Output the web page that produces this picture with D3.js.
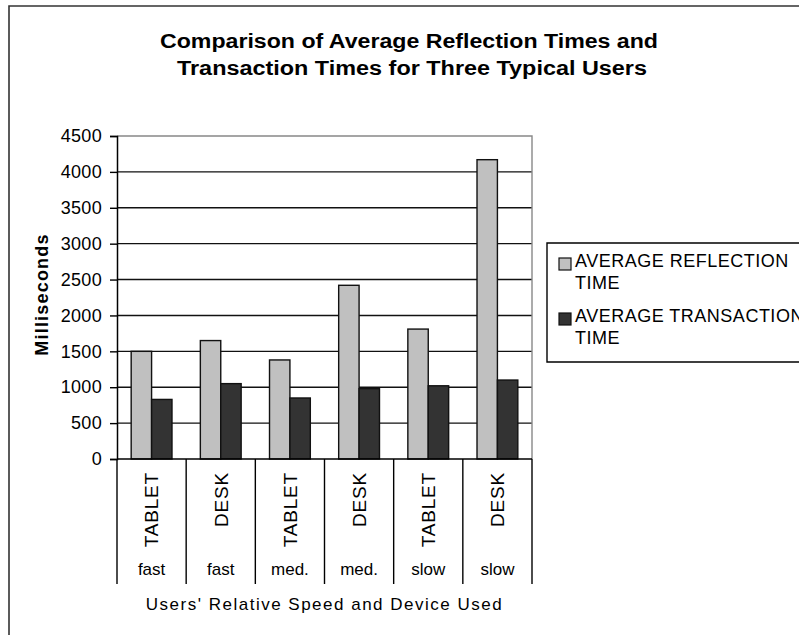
<!DOCTYPE html>
<html><head><meta charset="utf-8">
<script src="https://cdn.jsdelivr.net/npm/d3@7"></script>
<style>
html,body{margin:0;padding:0;background:#fff;}
svg text{font-family:"Liberation Sans",Arial,Helvetica,sans-serif;fill:#000;}
</style></head>
<body>
<svg id="chart" width="799" height="635"></svg>
<script>
const titleLines = ["Comparison of Average Reflection Times and", "Transaction Times for Three Typical Users"];
const devices = ["TABLET", "DESK", "TABLET", "DESK", "TABLET", "DESK"];
const speeds = ["fast", "fast", "med.", "med.", "slow", "slow"];
const seriesNames = ["AVERAGE REFLECTION TIME", "AVERAGE TRANSACTION TIME"];
const reflection = [1500, 1650, 1380, 2420, 1810, 4170];
const transaction = [830, 1050, 850, 980, 1020, 1100];
const yTicks = [0, 500, 1000, 1500, 2000, 2500, 3000, 3500, 4000, 4500];
const yTitle = "Milliseconds";
const xTitle = "Users' Relative Speed and Device Used";
const colors = ["#c0c0c0", "#333333"];

const svg = d3.select("#chart");
const W = 799, H = 635;
const plot = {left: 117, right: 532, top: 136, bottom: 459};

// outer frame (extends beyond the visible area on right/bottom)
svg.append("path").attr("d", `M9,${H + 5} L9,6 L${W + 5},6`)
  .attr("fill", "none").attr("stroke", "#333").attr("stroke-width", 1.6);

// title
const titleGeom = [{cx: 409, len: 498}, {cx: 412, len: 470}];
const tt = svg.append("text").attr("text-anchor", "middle")
  .attr("font-size", 20).attr("font-weight", "bold");
titleLines.forEach((l, i) => {
  tt.append("tspan").attr("x", titleGeom[i].cx).attr("y", 48 + i * 27)
    .attr("textLength", titleGeom[i].len).attr("lengthAdjust", "spacingAndGlyphs").text(l);
});

const keys = devices.map((d, i) => i);
const x0 = d3.scaleBand().domain(keys).range([plot.left, plot.right])
  .paddingInner(0.41).paddingOuter(0.205);
const x1 = d3.scaleBand().domain([0, 1]).range([0, x0.bandwidth()]);
const y = d3.scaleLinear().domain([0, 4500]).range([plot.bottom, plot.top]);

// gridlines
svg.append("g").selectAll("line").data(yTicks.filter(t => t > 0 && t < 4500)).join("line")
  .attr("x1", plot.left).attr("x2", plot.right)
  .attr("y1", d => y(d)).attr("y2", d => y(d))
  .attr("stroke", "#111").attr("stroke-width", 1.4);
// plot border top/right (gray)
svg.append("path")
  .attr("d", `M${plot.left},${y(4500)} L${plot.right},${y(4500)} L${plot.right},${plot.bottom}`)
  .attr("fill", "none").attr("stroke", "#888").attr("stroke-width", 1.4);

// bars
const data = keys.map(i => [reflection[i], transaction[i]]);
const groups = svg.append("g").selectAll("g").data(data).join("g")
  .attr("transform", (d, i) => `translate(${x0(i)},0)`);
groups.selectAll("rect").data(d => d.map((v, s) => ({v, s}))).join("rect")
  .attr("x", d => x1(d.s)).attr("width", x1.bandwidth())
  .attr("y", d => y(d.v)).attr("height", d => y(0) - y(d.v))
  .attr("fill", d => colors[d.s]).attr("stroke", "#111").attr("stroke-width", 1.4);

// y axis
const yAxis = d3.axisLeft(y).tickValues(yTicks).tickSize(7).tickPadding(8).tickFormat(d3.format("d"));
const ya = svg.append("g").attr("transform", `translate(${plot.left},0)`).call(yAxis);
ya.select(".domain").attr("stroke", "#000").attr("stroke-width", 1.5);
ya.selectAll(".tick line").attr("stroke", "#000").attr("stroke-width", 1.4);
ya.selectAll(".tick text").attr("font-size", 18).attr("font-family", "Liberation Sans, Arial, sans-serif")
  .attr("letter-spacing", 0.3).attr("fill", "#000");

// x axis baseline
svg.append("line").attr("x1", plot.left).attr("x2", plot.right)
  .attr("y1", y(0)).attr("y2", y(0)).attr("stroke", "#000").attr("stroke-width", 1.5);

// category separators
const bounds = d3.range(devices.length + 1).map(i => plot.left + i * (plot.right - plot.left) / devices.length);
svg.append("g").selectAll("line").data(bounds).join("line")
  .attr("x1", d => d).attr("x2", d => d).attr("y1", y(0)).attr("y2", 584)
  .attr("stroke", "#000").attr("stroke-width", 1.4);

// device labels (rotated)
svg.append("g").selectAll("text").data(devices).join("text")
  .attr("transform", (d, i) => `translate(${x0(i) + x0.bandwidth() / 2},472) rotate(-90)`)
  .attr("text-anchor", "end").attr("dy", "0.36em").attr("font-size", 19)
  .attr("letter-spacing", 0.8)
  .text(d => d);

// speed labels
svg.append("g").selectAll("text").data(speeds).join("text")
  .attr("x", (d, i) => x0(i) + x0.bandwidth() / 2).attr("y", 575)
  .attr("text-anchor", "middle").attr("font-size", 17).text(d => d);

// axis titles
svg.append("text").attr("x", (plot.left + plot.right) / 2).attr("y", 610)
  .attr("text-anchor", "middle").attr("font-size", 17).attr("letter-spacing", 1.5).text(xTitle);
svg.append("text").attr("transform", `translate(48,${(plot.top + plot.bottom) / 2 - 3}) rotate(-90)`)
  .attr("text-anchor", "middle").attr("font-size", 18).attr("font-weight", "bold")
  .attr("letter-spacing", 1.2).text(yTitle);

// legend
const lg = svg.append("g");
lg.append("path").attr("d", `M${W + 5},243 L547,243 L547,362 L${W + 5},362`)
  .attr("fill", "#fff").attr("stroke", "#000").attr("stroke-width", 1.4);
const legendLines = [["AVERAGE REFLECTION", "TIME"], ["AVERAGE TRANSACTION", "TIME"]];
seriesNames.forEach((name, i) => {
  const top = 253 + i * 55;
  lg.append("rect").attr("x", 559).attr("y", top + 5).attr("width", 12).attr("height", 12)
    .attr("fill", colors[i]).attr("stroke", "#111").attr("stroke-width", 1.2);
  const t = lg.append("text").attr("font-size", 18).attr("letter-spacing", 0.5);
  legendLines[i].forEach((l, j) => {
    t.append("tspan").attr("x", 575).attr("y", top + 14 + j * 22).text(l);
  });
});
</script>
</body></html>
